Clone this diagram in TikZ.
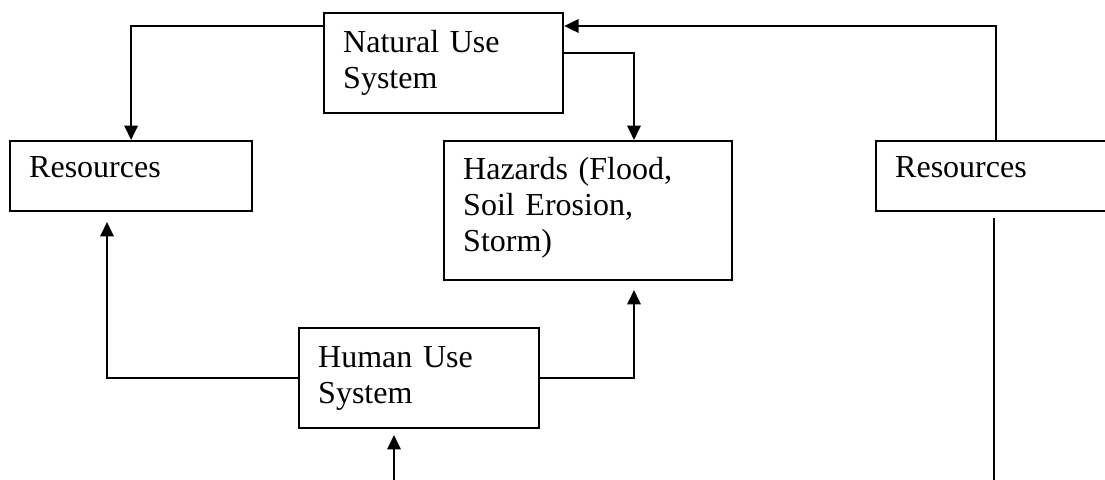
\documentclass[tikz,border=0pt]{standalone}
\usepackage{fontspec}
\setmainfont{Liberation Serif}
\usetikzlibrary{arrows.meta}
\tikzset{box/.style={draw, line width=1pt, anchor=north west, inner xsep=8.6pt, inner ysep=0pt,
    align=left, font=\fontsize{14.4}{16.3}\selectfont},
  link/.style={line width=1pt},
  arr/.style={link, -{Triangle[length=6.5pt,width=6pt]}}}

\begin{document}
\begin{tikzpicture}[x=0.45pt,y=-0.45pt]
  \clip (0,0) rectangle (1105,480);
  \node[box, text width=90.3pt, minimum height=45pt] (natural) at (323,12) {Natural Use\\System};
  \node[box, text width=91.7pt, minimum height=31.5pt, text depth=8pt] (resL) at (9,140) {Resources};
  \node[box, text width=112.4pt, minimum height=62.5pt, text depth=38pt] (haz) at (443,140) {Hazards (Flood,\\Soil Erosion,\\Storm)};
  \node[box, text width=90.8pt, minimum height=31.5pt, text depth=8pt] (resR) at (875,140) {Resources};
  \node[box, text width=90.8pt, minimum height=45pt] (human) at (298,327) {Human Use\\System};
  \coordinate (resLin) at (107,222);
  \coordinate (hazin) at (634,290);
  \coordinate (humin) at (394,435);
  \coordinate (humfoot) at (394,480);
  \coordinate (resRout) at (994,218);
  \coordinate (resRfoot) at (994,480);
  \draw[arr] ([yshift=-6.3pt]natural.north west) -| (resL.north);
  \draw[arr] ([yshift=-18.5pt]natural.north east) -| (hazin |- haz.north);
  \draw[arr] (resR.north) |- ([yshift=-6.3pt]natural.north east);
  \draw[arr] (human.west) -| (resLin);
  \draw[arr] (human.east) -| (hazin);
  \draw[arr] (humfoot) -- (humin);
  \draw[link] (resRfoot) -- (resRout);
\end{tikzpicture}
\end{document}
